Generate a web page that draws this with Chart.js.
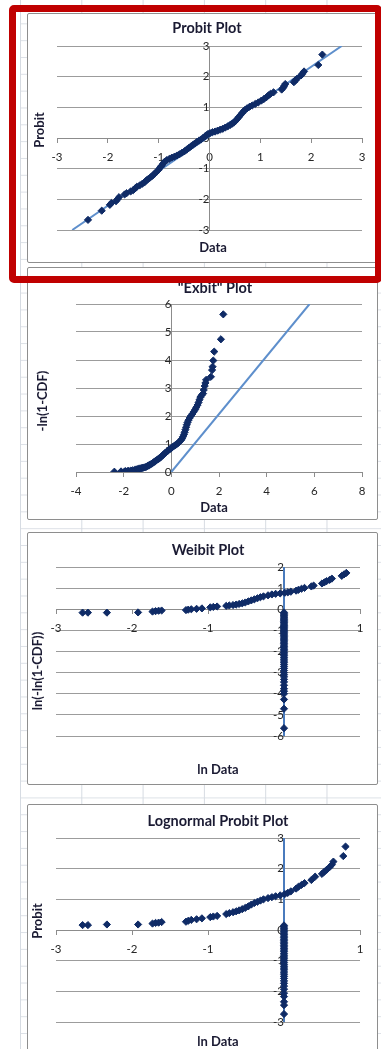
<!DOCTYPE html>
<html>
<head>
<meta charset="utf-8">
<script src="https://cdn.jsdelivr.net/npm/chart.js@4"></script>
<style>
  body { margin: 0; width: 381px; height: 1049px; overflow: hidden; background: #fff; position: relative; }
  #sheet {
    position: absolute; left: 20px; top: 0; width: 361px; height: 1049px;
    background-image:
      linear-gradient(to right, #d6dbe2 1px, transparent 1px),
      linear-gradient(to bottom, #dde1e7 1px, transparent 1px);
    background-size: 61.3px 100%, 100% 16.83px;
    background-position: 0 0, 0 6.5px;
  }
  .box { position: absolute; border: 1px solid #8e8e8e; background: #fff; border-radius: 2px; }
  .box canvas { display: block; }
  #frame {
    position: absolute; left: 9px; top: 5px; width: 359px; height: 264px;
    border: 7px solid #c00000; border-radius: 5px; pointer-events: none;
  }
</style>
</head>
<body>
<div id="sheet"></div>
<div class="box" style="left:27px;top:13px;"><canvas id="c1" width="360" height="248"></canvas></div>
<div class="box" style="left:27px;top:267px;"><canvas id="c2" width="349" height="251"></canvas></div>
<div class="box" style="left:27px;top:532px;"><canvas id="c3" width="349" height="251"></canvas></div>
<div class="box" style="left:27px;top:804px;"><canvas id="c4" width="349" height="258"></canvas></div>
<div id="frame"></div>

<script>
// Probit plot: data vs probit
const probitX = [
  -2.39, -2.12, -1.96, -1.93, -1.84, -1.81, -1.78, -1.67, -1.63, -1.55,
  -1.50, -1.46, -1.43, -1.37, -1.32, -1.28, -1.24, -1.20, -1.16, -1.12,
  -1.08, -1.04, -1.00, -0.97, -0.94, -0.91, -0.88, -0.84, -0.79, -0.74,
  -0.69, -0.64, -0.59, -0.54, -0.49, -0.45, -0.41, -0.37, -0.33, -0.29,
  -0.25, -0.21, -0.17, -0.13, -0.09, -0.06, -0.03, 0.01, 0.06, 0.11,
  0.16, 0.21, 0.26, 0.31, 0.36, 0.41, 0.45, 0.49, 0.52, 0.55,
  0.58, 0.61, 0.64, 0.67, 0.70, 0.74, 0.79, 0.84, 0.90, 0.96,
  1.02, 1.07, 1.12, 1.16, 1.20, 1.26, 1.42, 1.45, 1.47, 1.49,
  1.66, 1.69, 1.72, 1.80, 1.83, 1.86, 2.14, 2.22
];
const probitY = [
  -2.67, -2.37, -2.18, -2.12, -2.06, -2.00, -1.93, -1.84, -1.80, -1.74,
  -1.70, -1.64, -1.59, -1.54, -1.49, -1.45, -1.38, -1.33, -1.28, -1.23,
  -1.16, -1.10, -1.03, -0.96, -0.90, -0.83, -0.77, -0.72, -0.68, -0.64,
  -0.61, -0.57, -0.53, -0.48, -0.43, -0.38, -0.33, -0.28, -0.23, -0.18,
  -0.13, -0.09, -0.05, 0.00, 0.05, 0.09, 0.13, 0.16, 0.19, 0.21,
  0.24, 0.27, 0.30, 0.34, 0.38, 0.43, 0.47, 0.52, 0.57, 0.63,
  0.69, 0.75, 0.81, 0.87, 0.92, 0.97, 1.02, 1.06, 1.11, 1.16,
  1.22, 1.27, 1.33, 1.39, 1.44, 1.49, 1.58, 1.64, 1.70, 1.76,
  1.82, 1.88, 1.93, 2.04, 2.10, 2.17, 2.38, 2.72
];
const probitLineX = [-2.7, 2.6];
const probitLineY = [-3, 3];

// "Exbit" plot: data vs -ln(1-CDF)
const exbitX = [
  -2.39, -2.11, -1.96, -1.92, -1.84, -1.79, -1.70, -1.64, -1.55, -1.49,
  -1.44, -1.38, -1.33, -1.28, -1.24, -1.20, -1.15, -1.10, -1.05, -1.00,
  -0.96, -0.92, -0.87, -0.82, -0.77, -0.72, -0.67, -0.62, -0.57, -0.52,
  -0.47, -0.42, -0.37, -0.32, -0.27, -0.22, -0.17, -0.12, -0.07, -0.02,
  0.04, 0.10, 0.16, 0.22, 0.28, 0.34, 0.40, 0.45, 0.49, 0.53,
  0.56, 0.59, 0.62, 0.65, 0.68, 0.72, 0.77, 0.82, 0.88, 0.94,
  1.00, 1.05, 1.10, 1.14, 1.18, 1.22, 1.27, 1.33, 1.36, 1.40,
  1.43, 1.46, 1.66, 1.71, 1.73, 1.76, 1.80, 2.08, 2.18
];
const exbitY = [
  0.01, 0.02, 0.02, 0.03, 0.03, 0.04, 0.05, 0.06, 0.07, 0.09,
  0.10, 0.11, 0.12, 0.13, 0.14, 0.15, 0.16, 0.17, 0.19, 0.21,
  0.23, 0.25, 0.27, 0.30, 0.33, 0.36, 0.39, 0.42, 0.45, 0.48,
  0.51, 0.55, 0.59, 0.63, 0.67, 0.71, 0.74, 0.78, 0.81, 0.84,
  0.89, 0.92, 0.95, 0.99, 1.03, 1.08, 1.13, 1.19, 1.26, 1.34,
  1.42, 1.51, 1.60, 1.69, 1.77, 1.85, 1.93, 2.00, 2.07, 2.15,
  2.23, 2.31, 2.39, 2.48, 2.58, 2.67, 2.74, 2.80, 2.93, 3.07,
  3.18, 3.29, 3.40, 3.64, 3.76, 3.98, 4.30, 4.74, 5.63
];
const exbitLineX = [0, 5.8];
const exbitLineY = [0, 6];

// Weibit plot: ln data vs ln(-ln(1-CDF)); #NUM! x values land on 0
const weibitX = [
  -2.65, -2.58, -2.33, -1.92, -1.73, -1.69, -1.65, -1.61, -1.29, -1.26,
  -1.22, -1.15, -1.08, -0.97, -0.93, -0.88, -0.76, -0.72, -0.67, -0.63,
  -0.59, -0.55, -0.51, -0.47, -0.43, -0.39, -0.35, -0.31, -0.27, -0.21,
  -0.16, -0.11, -0.05, 0.01, 0.05, 0.09, 0.16, 0.19, 0.23, 0.27,
  0.36, 0.39, 0.50, 0.53, 0.56, 0.60, 0.63, 0.76, 0.79, 0.82
];
const weibitY = [
  -0.16, -0.16, -0.16, -0.15, -0.11, -0.09, -0.07, -0.06, -0.04, -0.02,
  0.00, 0.02, 0.04, 0.09, 0.11, 0.13, 0.16, 0.18, 0.20, 0.22,
  0.25, 0.28, 0.32, 0.37, 0.42, 0.47, 0.52, 0.57, 0.61, 0.66,
  0.70, 0.73, 0.75, 0.78, 0.80, 0.83, 0.88, 0.92, 0.97, 1.01,
  1.08, 1.12, 1.22, 1.27, 1.33, 1.39, 1.45, 1.58, 1.65, 1.72
];
const weibitErrY = [
  -0.15, -0.20, -0.26, -0.31, -0.37, -0.42, -0.48, -0.53, -0.59, -0.64,
  -0.70, -0.76, -0.81, -0.87, -0.93, -0.99, -1.05, -1.11, -1.17, -1.23,
  -1.30, -1.36, -1.42, -1.49, -1.55, -1.62, -1.69, -1.76, -1.83, -1.90,
  -1.97, -2.05, -2.12, -2.20, -2.28, -2.36, -2.45, -2.53, -2.62, -2.71,
  -2.80, -2.90, -3.00, -3.10, -3.20, -3.32, -3.44, -3.60, -3.76, -3.88,
  -4.00, -4.27, -4.71, -5.63
];
const weibitLineX = [0, 0];
const weibitLineY = [-6, 2];

// Lognormal probit plot: ln data vs probit
const lognormX = [
  -2.65, -2.58, -2.33, -1.92, -1.73, -1.69, -1.65, -1.61, -1.29, -1.26,
  -1.22, -1.15, -1.08, -0.97, -0.93, -0.88, -0.76, -0.72, -0.67, -0.63,
  -0.59, -0.55, -0.51, -0.47, -0.43, -0.39, -0.35, -0.31, -0.27, -0.21,
  -0.16, -0.11, -0.05, 0.01, 0.05, 0.09, 0.16, 0.19, 0.23, 0.27,
  0.36, 0.41, 0.50, 0.53, 0.56, 0.60, 0.63, 0.65, 0.78, 0.81
];
const lognormY = [
  0.16, 0.16, 0.18, 0.18, 0.21, 0.23, 0.24, 0.26, 0.27, 0.30,
  0.33, 0.35, 0.38, 0.42, 0.44, 0.46, 0.52, 0.55, 0.58, 0.61,
  0.64, 0.68, 0.72, 0.77, 0.83, 0.88, 0.92, 0.96, 1.00, 1.04,
  1.07, 1.10, 1.13, 1.17, 1.21, 1.26, 1.35, 1.41, 1.47, 1.53,
  1.63, 1.74, 1.83, 1.90, 1.96, 2.05, 2.13, 2.23, 2.41, 2.72
];
const lognormErrY = [
  0.15, 0.10, 0.05, 0.00, -0.05, -0.10, -0.15, -0.20, -0.25, -0.30,
  -0.35, -0.40, -0.45, -0.50, -0.55, -0.60, -0.65, -0.70, -0.76, -0.82,
  -0.88, -0.94, -1.00, -1.06, -1.12, -1.18, -1.24, -1.30, -1.37, -1.44,
  -1.51, -1.58, -1.66, -1.74, -1.83, -1.93, -2.06, -2.17, -2.34, -2.45,
  -2.74
];
const lognormLineX = [0, 0];
const lognormLineY = [-3, 3];

const errorX = 0; // where Excel puts the ln() errors

const NAVY = "#0f2b66";
Chart.defaults.font.family = "Lato, 'Open Sans', sans-serif";
Chart.defaults.font.size = 11.5;
Chart.defaults.color = "#262626";

function pairs(xs, ys) {
  return xs.map((x, i) => ({ x: x, y: ys[i] }));
}

// chart title + axis titles, Excel style
const axisText = {
  id: "axisText",
  afterDraw(chart, args, o) {
    const ctx = chart.ctx;
    ctx.save();
    ctx.fillStyle = "#1b1b33";
    ctx.textAlign = "center";
    ctx.textBaseline = "middle";
    ctx.font = "bold 14.5px Lato";
    ctx.fillText(o.title, o.titleAt[0], o.titleAt[1]);
    ctx.font = "bold 13px Lato";
    ctx.fillText(o.xTitle, o.xAt[0], o.xAt[1]);
    ctx.translate(o.yAt[0], o.yAt[1]);
    ctx.rotate(-Math.PI / 2);
    ctx.fillText(o.yTitle, 0, 0);
    ctx.restore();
  },
};

function scatterChart(id, o) {
  const sets = [
    {
      data: o.points,
      pointStyle: "rectRot",
      pointRadius: 3.6,
      pointHoverRadius: 3.6,
      backgroundColor: NAVY,
      borderColor: NAVY,
      borderWidth: 1,
      order: 1,
    },
    {
      data: o.line,
      showLine: true,
      pointRadius: 0,
      borderColor: o.lineColor,
      borderWidth: 2,
      order: 2,
    },
  ];
  return new Chart(document.getElementById(id), {
    type: "scatter",
    data: { datasets: sets },
    options: {
      responsive: false,
      animation: false,
      events: [],
      layout: { padding: o.padding },
      plugins: {
        legend: { display: false },
        tooltip: { enabled: false },
        axisText: o.text,
      },
      scales: {
        x: {
          type: "linear",
          min: o.xRange[0],
          max: o.xRange[1],
          position: { y: 0 },
          ticks: { stepSize: o.xStep, padding: 8, autoSkip: false, maxRotation: 0 },
          grid: { drawOnChartArea: false, drawTicks: true, tickLength: 4, color: "#8c8c8c" },
          border: { color: "#8c8c8c" },
        },
        y: {
          type: "linear",
          min: o.yRange[0],
          max: o.yRange[1],
          position: { x: 0 },
          ticks: { stepSize: 1, padding: 12, autoSkip: false },
          grid: { drawTicks: false, color: "#9c9c9c" },
          border: { color: "#8c8c8c" },
        },
      },
    },
    plugins: [axisText],
  });
}

scatterChart("c1", {
  points: pairs(probitX, probitY),
  line: pairs(probitLineX, probitLineY),
  lineColor: "#5e8fcc",
  xRange: [-3, 3], xStep: 1, yRange: [-3, 3],
  padding: { left: 29, top: 32, right: 26, bottom: 32 },
  text: { title: "Probit Plot", titleAt: [179, 14], xTitle: "Data", xAt: [185, 234], yTitle: "Probit", yAt: [12, 116] },
});

scatterChart("c2", {
  points: pairs(exbitX, exbitY),
  line: pairs(exbitLineX, exbitLineY),
  lineColor: "#5e8fcc",
  xRange: [-4, 8], xStep: 2, yRange: [0, 6],
  padding: { left: 48, top: 36, right: 15, bottom: 47 },
  text: { title: "\"Exbit\" Plot", titleAt: [187, 20], xTitle: "Data", xAt: [186, 240], yTitle: "-ln(1-CDF)", yAt: [15, 133] },
});

scatterChart("c3", {
  points: pairs(weibitX, weibitY).concat(weibitErrY.map(y => ({ x: errorX, y: y }))),
  line: pairs(weibitLineX, weibitLineY),
  lineColor: "#4a7bbd",
  xRange: [-3, 1], xStep: 1, yRange: [-6, 2],
  padding: { left: 28, top: 34, right: 17, bottom: 48 },
  text: { title: "Weibit Plot", titleAt: [180, 17], xTitle: "ln Data", xAt: [190, 237], yTitle: "ln(-ln(1-CDF))", yAt: [10, 138] },
});

scatterChart("c4", {
  points: pairs(lognormX, lognormY).concat(lognormErrY.map(y => ({ x: errorX, y: y }))),
  line: pairs(lognormLineX, lognormLineY),
  lineColor: "#4a7bbd",
  xRange: [-3, 1], xStep: 1, yRange: [-3, 3],
  padding: { left: 28, top: 33, right: 17, bottom: 41 },
  text: { title: "Lognormal Probit Plot", titleAt: [190, 16], xTitle: "ln Data", xAt: [190, 237], yTitle: "Probit", yAt: [10, 116] },
});
</script>
</body>
</html>
